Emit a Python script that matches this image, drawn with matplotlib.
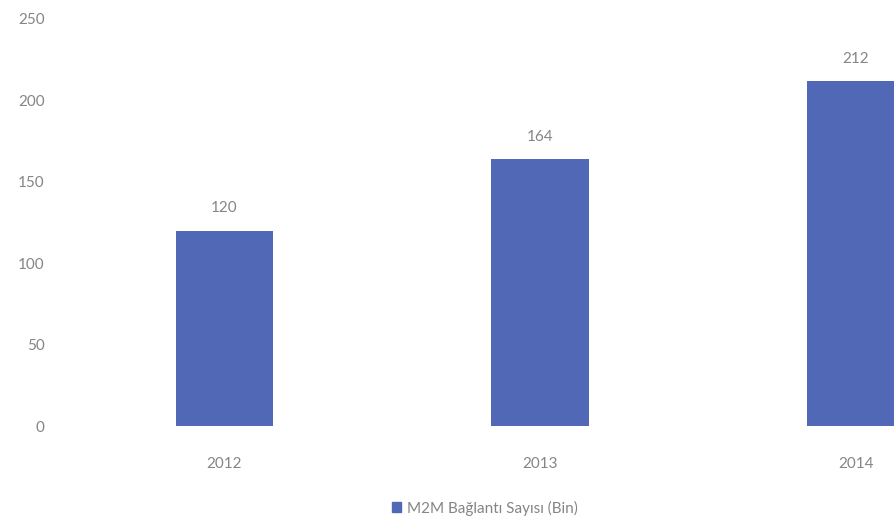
import matplotlib
matplotlib.use('Agg')
import matplotlib.pyplot as plt
from matplotlib.patches import Patch

# M2M connection counts (thousands)
years = ['2012', '2013', '2014']
connections = [120, 164, 212]
y_ticks = [0, 50, 100, 150, 200, 250]
series_name = 'M2M Bağlantı Sayısı (Bin)'

bar_color = '#5068b6'
text_color = '#858585'

plt.rcParams['font.family'] = ['Lato', 'DejaVu Sans']

fig = plt.figure(figsize=(8.95, 5.22), dpi=100)
ax = fig.add_axes([66.75 / 895, 96 / 522, (895 - 66.75) / 895, 407 / 522])

x = range(len(years))
bars = ax.bar(x, connections, width=0.31, color=bar_color)

# value labels above each bar
for xi, v in zip(x, connections):
    ax.annotate(str(v), (xi, v), xytext=(0, 11), textcoords='offset points',
                ha='center', va='bottom', fontsize=11, color=text_color)

ax.set_xlim(-0.5, 2.125)
ax.set_ylim(0, 250)
ax.set_yticks(y_ticks)
ax.set_xticks(list(x))
ax.set_xticklabels(years)
ax.tick_params(axis='both', length=0, labelsize=11, labelcolor=text_color)
ax.tick_params(axis='x', pad=22)
ax.tick_params(axis='y', pad=16)
for s in ax.spines.values():
    s.set_visible(False)

fig.legend(handles=[Patch(color=bar_color, label=series_name)],
           loc='center', bbox_to_anchor=(485 / 895, 1 - 508 / 522),
           frameon=False, fontsize=11, handlelength=0.6, handleheight=0.6,
           handletextpad=0.4, labelcolor=text_color)

fig.savefig('out.png', dpi=100, facecolor='white')
